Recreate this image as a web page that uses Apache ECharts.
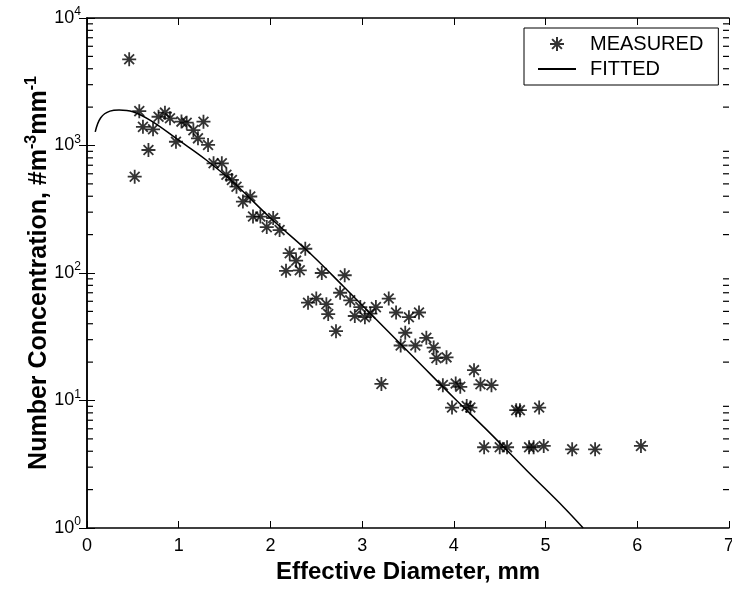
<!DOCTYPE html>
<html>
<head>
<meta charset="utf-8">
<script src="https://cdn.jsdelivr.net/npm/echarts@6/dist/echarts.min.js"></script>
<style>
  html, body { margin: 0; padding: 0; background: #fff; }
  #main { width: 732px; height: 590px; }
</style>
</head>
<body>
<div id="main"></div>
<script>
// measured drop size distribution
var measuredX = [0.46, 0.57, 0.52, 0.67, 0.61, 0.72, 0.78, 0.85, 0.905, 0.97,
    1.03, 1.087, 1.16, 1.21, 1.27, 1.32, 1.38, 1.47, 1.52, 1.58,
    1.63, 1.70, 1.78, 1.81, 1.89, 1.96, 2.03, 2.10, 2.21, 2.28,
    2.38, 2.17, 2.32, 2.56, 2.41, 2.50, 2.61, 2.63, 2.81, 2.715,
    2.76, 2.87, 2.92, 2.98, 3.03, 3.09, 3.15, 3.29, 3.37, 3.51,
    3.62, 3.47, 3.42, 3.58, 3.70, 3.78, 3.81, 3.92, 3.21, 3.88,
    4.02, 4.07, 4.22, 4.29, 4.41, 3.98, 4.14, 4.18, 4.68, 4.72,
    4.93, 4.33, 4.50, 4.58, 4.82, 4.87, 4.98, 5.29, 5.54, 6.04];
var measuredY = [4740, 1860, 569, 922, 1400, 1340, 1680, 1810, 1634, 1070,
    1540, 1510, 1320, 1138, 1537, 1010, 725, 725, 590, 537,
    475, 363, 398, 277, 277, 229, 270, 217, 143, 125,
    155, 104, 105, 100, 58.5, 63, 57, 47.6, 96, 35,
    70, 61, 46, 54, 45, 48, 54, 63, 49, 45,
    49, 34, 27, 27, 31, 26, 21.5, 21.8, 13.5, 13.2,
    13.6, 12.8, 17.3, 13.4, 13.2, 8.8, 9.06, 8.8, 8.4, 8.4,
    8.8, 4.3, 4.3, 4.3, 4.3, 4.3, 4.4, 4.14, 4.14, 4.4];

// fitted curve
var fittedX = [0.09, 0.15, 0.25, 0.35, 0.5, 0.7, 1.0, 1.3, 1.6, 2.0,
    2.4, 2.8, 3.2, 3.6, 4.0, 4.4, 4.8, 5.2, 5.41];
var fittedY = [1280, 1650, 1860, 1900, 1840, 1560, 1100, 770, 510, 270,
    150, 78, 40, 20.5, 10.5, 5.5, 2.8, 1.45, 1.0];

var minorTickVals = [2, 3, 4, 5, 6, 7, 8, 9,
    20, 30, 40, 50, 60, 70, 80, 90,
    200, 300, 400, 500, 600, 700, 800, 900,
    2000, 3000, 4000, 5000, 6000, 7000, 8000, 9000];

var FONT = '"Liberation Sans", Arial, sans-serif';
var starPath = 'path://M10,0L10,20M0,10L20,10M3,3L17,17M3,17L17,3';

var measuredData = [];
for (var i = 0; i < measuredX.length; i++) {
    measuredData.push([measuredX[i], measuredY[i]]);
}
var fittedData = [];
for (var i = 0; i < fittedX.length; i++) {
    fittedData.push([fittedX[i], fittedY[i]]);
}
var minorLeft = [], minorRight = [];
for (var i = 0; i < minorTickVals.length; i++) {
    minorLeft.push([0, minorTickVals[i]]);
    minorRight.push([7, minorTickVals[i]]);
}

function powLabel(v) {
    return '10{sup|' + Math.round(Math.log10(v)) + '}';
}

// minor log tick, pointing into the plot
function minorTick(dir) {
    return function (params, api) {
        var p = api.coord([api.value(0), api.value(1)]);
        return {
            type: 'line',
            shape: { x1: p[0], y1: p[1], x2: p[0] + dir * 6, y2: p[1] },
            style: { stroke: '#000', lineWidth: 1.2 }
        };
    };
}

var myChart = echarts.init(document.getElementById('main'));

var option = {
    backgroundColor: '#fff',
    animation: false,
    grid: { left: 87, right: 3, top: 18, bottom: 62, outerBoundsMode: 'none', containLabel: false },
    legend: {
        data: [
            { name: 'MEASURED' },
            { name: 'FITTED', itemStyle: { opacity: 0 } }
        ],
        orient: 'vertical',
        left: 524,
        top: 28,
        padding: [6, 15, 6, 13],
        itemGap: 5,
        itemWidth: 38,
        itemHeight: 14,
        borderColor: '#000',
        borderWidth: 1,
        backgroundColor: '#fff',
        textStyle: { fontFamily: FONT, fontSize: 20, color: '#000', padding: [0, 0, 0, 9] }
    },
    xAxis: [{
        type: 'value',
        min: 0, max: 7, interval: 1,
        position: 'bottom',
        name: 'Effective Diameter, mm',
        nameLocation: 'middle',
        nameGap: 32,
        nameTextStyle: { fontFamily: FONT, fontSize: 24, fontWeight: 'bold', color: '#000' },
        axisLine: { lineStyle: { color: '#000', width: 1.5 } },
        axisTick: { inside: true, length: 7, lineStyle: { color: '#000' } },
        axisLabel: { fontFamily: FONT, fontSize: 18, color: '#000', margin: 9 },
        splitLine: { show: false }
    }, {
        type: 'value',
        min: 0, max: 7, interval: 1,
        position: 'top',
        axisLine: { lineStyle: { color: '#000', width: 1.5 } },
        axisTick: { inside: true, length: 7, lineStyle: { color: '#000' } },
        axisLabel: { show: false },
        splitLine: { show: false }
    }],
    yAxis: [{
        type: 'log',
        logBase: 10,
        min: 1, max: 10000,
        position: 'left',
        name: 'Number Concentration, #m{sup|-3}mm{sup|-1}',
        nameLocation: 'middle',
        nameGap: 33,
        nameMoveOverlap: false,
        nameTextStyle: {
            fontFamily: FONT, fontSize: 25, fontWeight: 'bold', color: '#000',
            rich: { sup: { fontFamily: FONT, fontSize: 16, fontWeight: 'bold', color: '#000', padding: [0, 0, 14, 0] } }
        },
        axisLine: { lineStyle: { color: '#000', width: 1.5 } },
        axisTick: { inside: true, length: 8, lineStyle: { color: '#000' } },
        axisLabel: {
            fontFamily: FONT, fontSize: 18, color: '#000', margin: 6,
            formatter: powLabel,
            rich: { sup: { fontFamily: FONT, fontSize: 12, color: '#000', padding: [0, 0, 12, 0] } }
        },
        splitLine: { show: false }
    }, {
        type: 'log',
        logBase: 10,
        min: 1, max: 10000,
        position: 'right',
        axisLine: { lineStyle: { color: '#000', width: 1.5 } },
        axisTick: { inside: true, length: 8, lineStyle: { color: '#000' } },
        axisLabel: { show: false },
        splitLine: { show: false }
    }],
    series: [{
        name: 'MEASURED',
        type: 'scatter',
        data: measuredData,
        symbol: starPath,
        symbolSize: 14,
        symbolKeepAspect: true,
        itemStyle: { color: '#000', borderColor: '#000', borderWidth: 1.8 },
        z: 3
    }, {
        name: 'FITTED',
        type: 'line',
        data: fittedData,
        smooth: 0.4,
        symbol: 'none',
        lineStyle: { color: '#000', width: 1.5 },
        itemStyle: { color: '#000' },
        z: 2
    }, {
        name: 'minorLeft',
        type: 'custom',
        xAxisIndex: 0,
        yAxisIndex: 0,
        data: minorLeft,
        silent: true,
        clip: false,
        z: 4,
        renderItem: minorTick(1)
    }, {
        name: 'minorRight',
        type: 'custom',
        xAxisIndex: 0,
        yAxisIndex: 0,
        data: minorRight,
        silent: true,
        clip: false,
        z: 4,
        renderItem: minorTick(-1)
    }]
};

myChart.setOption(option);
</script>
</body>
</html>
